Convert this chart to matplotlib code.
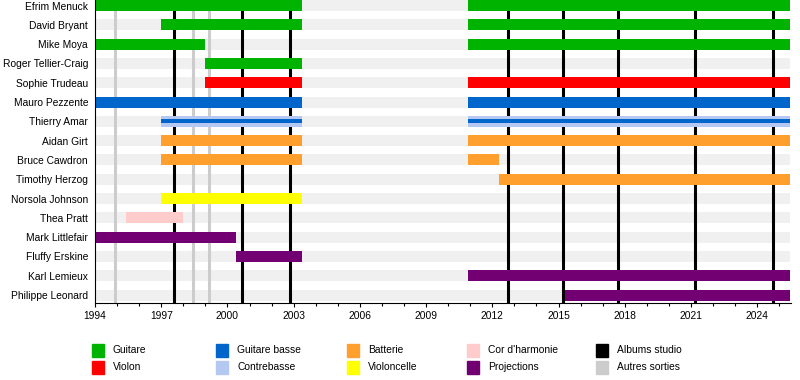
import matplotlib.pyplot as plt
from matplotlib.patches import Rectangle

plt.rcParams['font.family'] = ['Liberation Sans', 'DejaVu Sans']

DEBUT = 1994
FIN = 2025.5

membres = ["Efrim Menuck", "David Bryant", "Mike Moya", "Roger Tellier-Craig",
           "Sophie Trudeau", "Mauro Pezzente", "Thierry Amar", "Aidan Girt",
           "Bruce Cawdron", "Timothy Herzog", "Norsola Johnson", "Thea Pratt",
           "Mark Littlefair", "Fluffy Erskine", "Karl Lemieux", "Philippe Leonard"]

# (membre, debut, fin, role)
periodes = [
    ("Efrim Menuck", 1994, 2003.4, "Guitare"), ("Efrim Menuck", 2010.9, FIN, "Guitare"),
    ("David Bryant", 1997, 2003.4, "Guitare"), ("David Bryant", 2010.9, FIN, "Guitare"),
    ("Mike Moya", 1994, 1999.0, "Guitare"), ("Mike Moya", 2010.9, FIN, "Guitare"),
    ("Roger Tellier-Craig", 1999.0, 2003.4, "Guitare"),
    ("Sophie Trudeau", 1999.0, 2003.4, "Violon"), ("Sophie Trudeau", 2010.9, FIN, "Violon"),
    ("Mauro Pezzente", 1994, 2003.4, "Guitare basse"), ("Mauro Pezzente", 2010.9, FIN, "Guitare basse"),
    ("Thierry Amar", 1997, 2003.4, "Contrebasse"), ("Thierry Amar", 2010.9, FIN, "Contrebasse"),
    ("Aidan Girt", 1997, 2003.4, "Batterie"), ("Aidan Girt", 2010.9, FIN, "Batterie"),
    ("Bruce Cawdron", 1997, 2003.4, "Batterie"), ("Bruce Cawdron", 2010.9, 2012.3, "Batterie"),
    ("Timothy Herzog", 2012.3, FIN, "Batterie"),
    ("Norsola Johnson", 1997, 2003.4, "Violoncelle"),
    ("Thea Pratt", 1995.4, 1998.0, "Cor d'harmonie"),
    ("Mark Littlefair", 1994, 2000.4, "Projections"),
    ("Fluffy Erskine", 2000.4, 2003.4, "Projections"),
    ("Karl Lemieux", 2010.9, FIN, "Projections"),
    ("Philippe Leonard", 2015.3, FIN, "Projections"),
]

# role secondaire (trait fin dans la barre)
secondaires = [
    ("Thierry Amar", 1997, 2003.4, "Guitare basse"),
    ("Thierry Amar", 2010.9, FIN, "Guitare basse"),
]

albums_studio = [1997.6, 2000.66, 2002.84, 2012.7, 2015.2, 2017.7, 2021.2, 2024.7]
autres_sorties = [1994.9, 1998.45, 1999.17]

couleurs = {
    "Guitare": "#00b300", "Violon": "#ff0000",
    "Guitare basse": "#0066cc", "Contrebasse": "#b4c8f2",
    "Batterie": "#ffa02e", "Violoncelle": "#ffff00",
    "Cor d'harmonie": "#ffcccc", "Projections": "#730073",
    "Albums studio": "#000000", "Autres sorties": "#cccccc",
}
legende = ["Guitare", "Violon", "Guitare basse", "Contrebasse", "Batterie",
           "Violoncelle", "Cor d'harmonie", "Projections", "Albums studio", "Autres sorties"]

fig = plt.figure(figsize=(8, 3.8), dpi=100)
ax = fig.add_axes([95/800, 1 - 303/380, 696/800, 303/380])

pos = {m: i for i, m in enumerate(membres)}
ax.barh(range(len(membres)), FIN - DEBUT, left=DEBUT, height=0.57, color="#f0f0f0", zorder=0)

for x in autres_sorties:
    ax.axvline(x, color=couleurs["Autres sorties"], lw=2.2, zorder=1)
for x in albums_studio:
    ax.axvline(x, color="black", lw=2.2, zorder=1)

for m, d, f, r in periodes:
    ax.barh(pos[m], f - d, left=d, height=0.57, color=couleurs[r], zorder=2)
for m, d, f, r in secondaires:
    ax.barh(pos[m], f - d, left=d, height=0.2, color=couleurs[r], zorder=3)

ax.set_xlim(DEBUT, FIN + 0.03)
ax.set_ylim(len(membres) - 1 + 0.41, -0.285)
ax.set_yticks(range(len(membres)))
ax.set_yticklabels(membres, fontsize=7.4)
ax.tick_params(axis='y', length=0, pad=5)
ax.set_xticks(range(1994, 2025, 3))
ax.set_xticks(range(1994, 2026), minor=True)
ax.tick_params(axis='x', which='major', length=3, width=0.8, labelsize=7.4, pad=3)
ax.tick_params(axis='x', which='minor', length=2, width=0.8)
for s in ["top", "right"]:
    ax.spines[s].set_visible(False)
for s in ["left", "bottom"]:
    ax.spines[s].set_linewidth(0.8)

# legende manuelle, 5 colonnes x 2 lignes
col_x = [92, 216, 347, 467, 596]
lig_y = [350, 367]
for i, nom in enumerate(legende):
    cx = col_x[i // 2]
    cy = lig_y[i % 2]
    fig.patches.append(Rectangle(((cx) / 800, 1 - (cy + 6.5) / 380), 12 / 800, 13 / 380,
                                 transform=fig.transFigure, color=couleurs[nom], figure=fig))
    fig.text((cx + 21) / 800, 1 - cy / 380, nom, fontsize=7.4, va='center', ha='left')

fig.savefig("out.png", dpi=100)
